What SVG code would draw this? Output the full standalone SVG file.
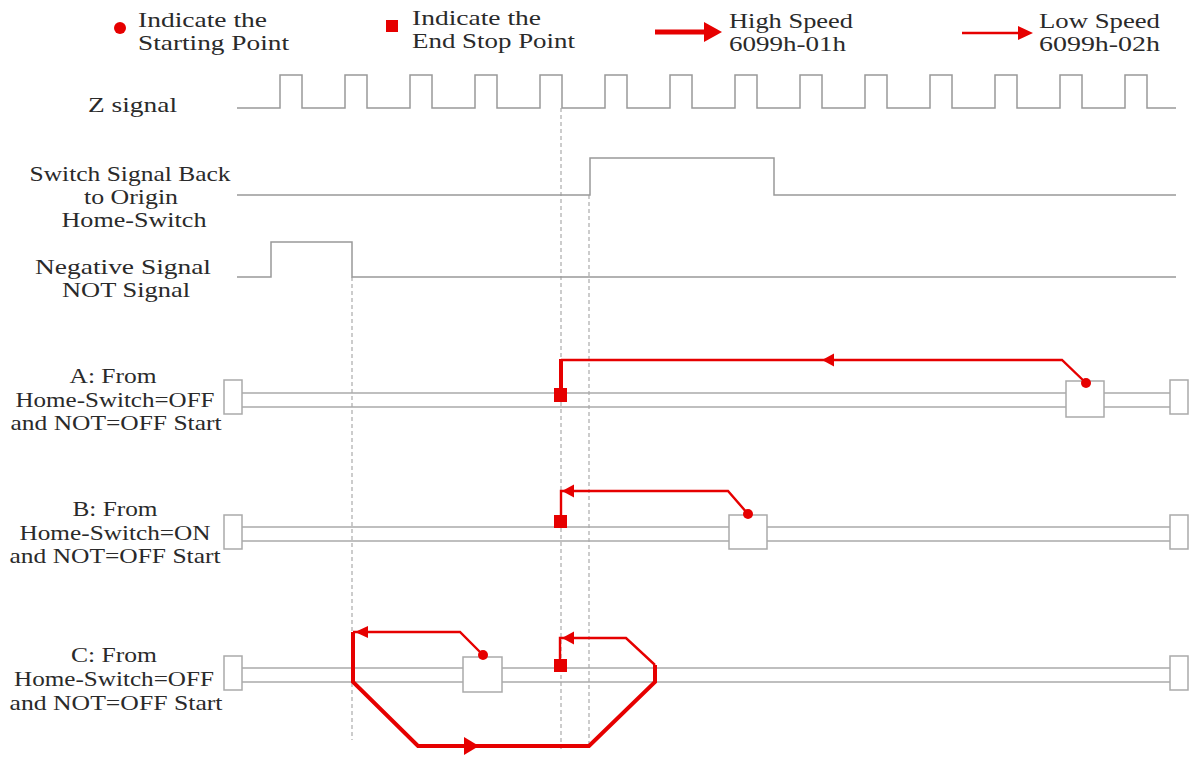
<svg xmlns="http://www.w3.org/2000/svg" width="1192" height="764" viewBox="0 0 1192 764">
<style>
.t{font-family:"Liberation Serif","DejaVu Serif",serif;font-size:21px;fill:#2a2a2a}
.c{text-anchor:middle}
.sig{fill:none;stroke:#999;stroke-width:1.5}
.rail{fill:none;stroke:#aaa;stroke-width:1.5}
.box{fill:#fff;stroke:#aaa;stroke-width:1.5}
.dash{fill:none;stroke:#999;stroke-width:1;stroke-dasharray:4 3}
.lo{fill:none;stroke:#e60000;stroke-width:2.4;stroke-linejoin:miter}
.hi{fill:none;stroke:#e60000;stroke-width:4;stroke-linejoin:miter}
.r{fill:#e60000}
</style>
<rect width="1192" height="764" fill="#fff"/>
<g id="legend">
  <circle class="r" cx="120" cy="28" r="6"/>
  <text class="t" x="138" y="27" textLength="129" lengthAdjust="spacingAndGlyphs">Indicate the</text>
  <text class="t" x="138" y="50" textLength="151" lengthAdjust="spacingAndGlyphs">Starting Point</text>
  <rect class="r" x="386" y="20" width="12" height="12"/>
  <text class="t" x="412" y="25" textLength="129" lengthAdjust="spacingAndGlyphs">Indicate the</text>
  <text class="t" x="412" y="48" textLength="163" lengthAdjust="spacingAndGlyphs">End Stop Point</text>
  <line x1="655" y1="32" x2="706" y2="32" stroke="#e60000" stroke-width="5"/>
  <polygon class="r" points="704,22 722,32 704,42"/>
  <text class="t" x="729" y="28" textLength="124" lengthAdjust="spacingAndGlyphs">High Speed</text>
  <text class="t" x="729" y="51" textLength="117" lengthAdjust="spacingAndGlyphs">6099h-01h</text>
  <line x1="962" y1="33" x2="1020" y2="33" stroke="#e60000" stroke-width="2.5"/>
  <polygon class="r" points="1018,26 1033,33 1018,40"/>
  <text class="t" x="1039" y="28" textLength="121" lengthAdjust="spacingAndGlyphs">Low Speed</text>
  <text class="t" x="1039" y="51" textLength="121" lengthAdjust="spacingAndGlyphs">6099h-02h</text>
</g>
<g id="signals">
  <g id="z-signal">
    <text class="t" x="88" y="112" textLength="89" lengthAdjust="spacingAndGlyphs">Z signal</text>
    <path class="sig" d="M237,108 H280 V75 H302 V108 H345 V75 H367 V108 H410 V75 H432 V108 H475 V75 H497 V108 H540 V75 H562 V108 H605 V75 H627 V108 H670 V75 H692 V108 H735 V75 H757 V108 H800 V75 H822 V108 H865 V75 H887 V108 H930 V75 H952 V108 H995 V75 H1017 V108 H1060 V75 H1082 V108 H1125 V75 H1147 V108 H1176"/>
  </g>
  <g id="home-switch">
    <text class="t c" x="130" y="181" textLength="201" lengthAdjust="spacingAndGlyphs">Switch Signal Back</text>
    <text class="t c" x="131" y="204" textLength="94" lengthAdjust="spacingAndGlyphs">to Origin</text>
    <text class="t c" x="134" y="227" textLength="145" lengthAdjust="spacingAndGlyphs">Home-Switch</text>
    <path class="sig" d="M237,195 H590 V158 H774 V195 H1176"/>
  </g>
  <g id="not-signal">
    <text class="t c" x="123" y="274" textLength="176" lengthAdjust="spacingAndGlyphs">Negative Signal</text>
    <text class="t c" x="126" y="297" textLength="128" lengthAdjust="spacingAndGlyphs">NOT Signal</text>
    <path class="sig" d="M237,277 H271 V242 H352 V277 H1176"/>
  </g>
</g>
<g id="guides">
  <line class="dash" x1="352" y1="277" x2="352" y2="740"/>
  <line class="dash" x1="561" y1="108" x2="561" y2="752"/>
  <line class="dash" x1="589" y1="195" x2="589" y2="745"/>
</g>
<g id="row-a">
  <text class="t c" x="113" y="383" textLength="87" lengthAdjust="spacingAndGlyphs">A: From</text>
  <text class="t c" x="115" y="406.5" textLength="199" lengthAdjust="spacingAndGlyphs">Home-Switch=OFF</text>
  <text class="t c" x="116" y="430" textLength="211" lengthAdjust="spacingAndGlyphs">and NOT=OFF Start</text>
  <line class="rail" x1="242" y1="393" x2="1170" y2="393"/>
  <line class="rail" x1="242" y1="407" x2="1170" y2="407"/>
  <rect class="box" x="224" y="380" width="18" height="34"/>
  <rect class="box" x="1170" y="380" width="18" height="34"/>
  <rect class="box" x="1066" y="381" width="38" height="36" fill="none"/>
</g>
<g id="row-b">
  <text class="t c" x="115" y="516" textLength="85" lengthAdjust="spacingAndGlyphs">B: From</text>
  <text class="t c" x="115" y="539.5" textLength="191" lengthAdjust="spacingAndGlyphs">Home-Switch=ON</text>
  <text class="t c" x="115" y="563" textLength="211" lengthAdjust="spacingAndGlyphs">and NOT=OFF Start</text>
  <line class="rail" x1="242" y1="527" x2="1170" y2="527"/>
  <line class="rail" x1="242" y1="541" x2="1170" y2="541"/>
  <rect class="box" x="224" y="515" width="18" height="34"/>
  <rect class="box" x="1170" y="515" width="18" height="34"/>
  <rect class="box" x="729" y="515" width="38" height="34" fill="none"/>
</g>
<g id="row-c">
  <text class="t c" x="114" y="662" textLength="86" lengthAdjust="spacingAndGlyphs">C: From</text>
  <text class="t c" x="114" y="686" textLength="200" lengthAdjust="spacingAndGlyphs">Home-Switch=OFF</text>
  <text class="t c" x="116" y="710" textLength="213" lengthAdjust="spacingAndGlyphs">and NOT=OFF Start</text>
  <line class="rail" x1="242" y1="668" x2="1170" y2="668"/>
  <line class="rail" x1="242" y1="682" x2="1170" y2="682"/>
  <rect class="box" x="224" y="656" width="18" height="34"/>
  <rect class="box" x="1170" y="656" width="18" height="34"/>
  <rect class="box" x="463" y="657" width="39" height="35" fill="none"/>
</g>
<g id="connectors">
  <path class="lo" d="M1086,383 L1062,360 H561"/>
  <line x1="561" y1="359" x2="561" y2="392" stroke="#e60000" stroke-width="4"/>
  <polygon class="r" points="822,360 834,353.5 834,366.5"/>
  <circle class="r" cx="1086" cy="383" r="5"/>
  <rect class="r" x="554" y="388" width="13" height="14"/>

  <path class="lo" d="M748,514 L728,491 H561 V520"/>
  <polygon class="r" points="562,491 574,484.5 574,497.5"/>
  <circle class="r" cx="748" cy="514" r="5"/>
  <rect class="r" x="554" y="515" width="13" height="13"/>

  <path class="lo" d="M483,655 L460,632 H353"/>
  <polygon class="r" points="355,632 368,626 368,638"/>
  <path class="hi" d="M353,632 V682 L418,746 H589 L655,682 V665"/>
  <polygon class="r" points="479,746 464,737 464,755"/>
  <path class="lo" d="M655,665 L626,638 H560 V662"/>
  <polygon class="r" points="562,638 574,631.5 574,644.5"/>
  <circle class="r" cx="483" cy="655" r="5"/>
  <rect class="r" x="554" y="659" width="13" height="13"/>
</g>
</svg>
